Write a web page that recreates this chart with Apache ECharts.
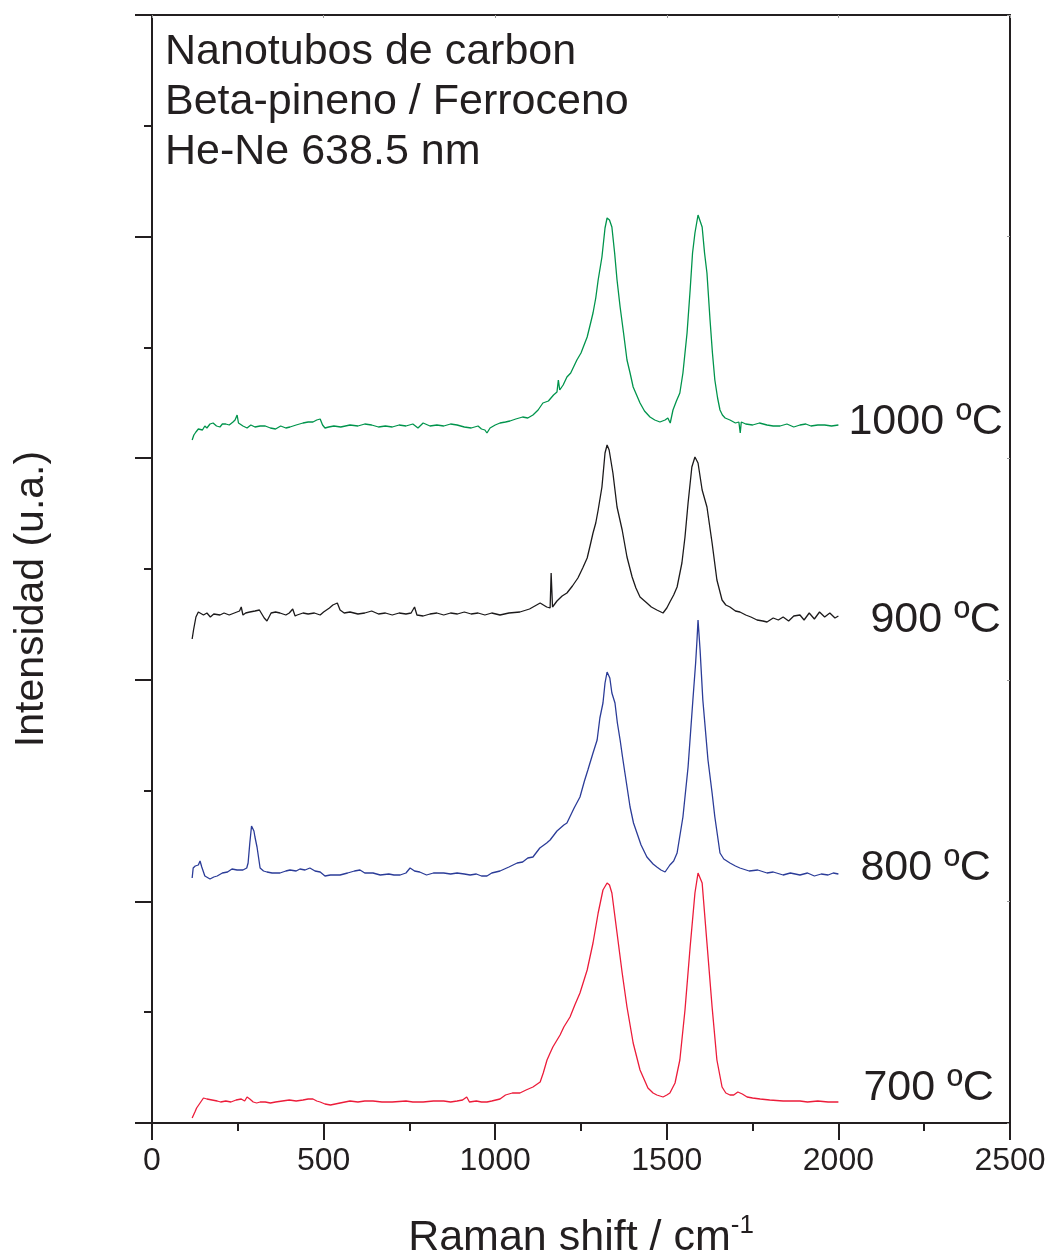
<!DOCTYPE html>
<html>
<head>
<meta charset="utf-8">
<script src="https://cdn.jsdelivr.net/npm/echarts@6/dist/echarts.min.js"></script>
<style>
html,body{margin:0;padding:0;background:#fff;}
#chart{width:1054px;height:1258px;}
</style>
</head>
<body>
<div id="chart"></div>
<script>
// ---- Data (Raman shift in cm^-1, intensity in arbitrary units, spectra vertically offset) ----
const shift1000 = [117,122,128,135,140,147,154,160,169,178,188,198,205,215,225,236,242,248,252,256,265,277,288,300,315,330,345,360,375,390,402,420,440,455,469,480,490,497,504,515,530,550,577,600,620,640,660,680,700,720,740,760,775,790,810,830,850,870,889,910,930,950,960,970,976,985,1000,1014,1030,1043,1060,1080,1095,1110,1125,1139,1155,1170,1180,1184,1188,1198,1209,1220,1238,1250,1268,1278,1285,1293,1300,1311,1320,1326,1333,1340,1348,1355,1364,1374,1384,1393,1402,1412,1422,1435,1451,1465,1480,1495,1503,1510,1518,1528,1538,1547,1553,1559,1568,1575,1582,1591,1597,1603,1610,1617,1626,1633,1640,1648,1655,1662,1670,1684,1700,1710,1714,1717,1730,1750,1770,1792,1810,1830,1850,1870,1888,1905,1920,1940,1960,1980,2000];
const int1000 = [683,688,691,694,695,693,697,695,699,700,697,696,699,699,698,701,703,708,700,698,697,695,698,696,697,697,695,694,697,695,696,698,700,701,701,703,704,698,695,696,697,696,698,697,699,698,696,697,696,698,697,699,695,700,697,698,697,699,698,696,695,697,694,693,690,695,698,700,701,702,704,706,705,708,713,720,722,728,731,743,733,738,746,750,763,770,786,800,810,825,843,866,895,905,903,896,870,843,816,790,763,750,736,728,720,712,706,703,701,703,705,700,713,722,730,750,770,790,833,870,890,908,902,896,870,850,803,770,743,725,713,708,705,703,700,701,690,701,699,698,700,698,697,697,699,696,698,699,697,698,698,697,698];

const shift900 = [117,121,128,135,140,150,160,170,180,198,210,225,240,255,260,265,273,285,300,313,320,327,335,340,347,360,373,390,400,410,417,423,440,455,473,490,500,517,527,540,548,560,577,600,620,640,660,680,700,720,740,755,765,772,790,810,830,850,870,890,910,930,950,970,990,1014,1040,1072,1100,1131,1150,1160,1163,1167,1180,1195,1209,1225,1241,1255,1268,1277,1285,1293,1300,1311,1320,1326,1332,1343,1355,1370,1384,1399,1410,1422,1442,1455,1471,1489,1500,1509,1520,1530,1544,1553,1562,1573,1582,1591,1603,1617,1632,1646,1661,1672,1684,1700,1713,1730,1745,1763,1780,1792,1810,1825,1839,1855,1870,1888,1900,1915,1930,1945,1960,1975,1990,2000];
const int900 = [484,493,506,511,509,508,510,506,509,508,510,508,510,512,516,508,510,511,512,513,509,505,502,501,510,511,510,508,510,514,507,508,510,509,510,508,511,515,518,520,513,510,511,509,510,512,509,510,508,510,509,510,516,508,507,509,510,508,510,509,511,509,510,508,510,508,510,511,514,520,516,515,550,516,522,527,530,537,545,555,565,578,590,600,613,636,670,678,673,650,616,593,566,546,535,526,520,516,513,510,515,521,528,536,560,586,620,656,666,660,633,616,580,543,523,518,516,512,511,508,506,503,502,501,505,503,506,502,507,508,503,510,504,511,506,510,505,507];

const shift800 = [117,120,126,135,140,145,154,169,180,190,205,220,233,248,265,276,280,285,290,297,300,306,315,325,335,350,373,390,402,420,431,446,460,475,490,504,520,548,570,590,606,620,644,665,690,705,723,740,752,765,780,800,820,850,870,889,910,927,945,960,976,990,1014,1040,1064,1080,1095,1110,1130,1150,1160,1180,1200,1209,1230,1247,1260,1270,1285,1297,1305,1314,1320,1326,1330,1334,1340,1349,1356,1364,1371,1378,1393,1403,1413,1425,1442,1460,1471,1483,1495,1509,1520,1530,1547,1562,1576,1584,1588,1591,1597,1605,1620,1632,1640,1655,1666,1684,1700,1713,1740,1765,1792,1810,1839,1860,1888,1910,1930,1950,1970,1985,2000];
const int800 = [245,255,257,258,262,256,247,244,246,247,250,251,254,253,253,255,260,280,297,292,286,276,255,252,251,250,250,252,253,252,254,253,255,252,251,247,248,248,250,252,253,250,250,248,249,248,248,250,255,252,251,248,250,250,249,250,249,248,249,247,247,250,252,256,260,261,265,266,275,280,283,292,298,300,315,326,342,353,370,383,405,420,440,451,449,445,430,420,400,383,366,350,316,300,290,278,266,259,256,253,251,258,262,270,306,356,423,460,483,503,473,423,363,330,306,270,264,260,257,255,252,253,250,251,248,250,248,250,247,249,248,250,249];

const shift700 = [117,125,130,140,150,160,175,190,200,215,230,245,260,270,277,285,295,305,315,330,345,360,380,400,420,440,455,469,480,490,504,520,548,577,600,620,644,670,700,740,760,790,820,850,870,889,905,917,925,945,960,976,990,1014,1030,1050,1072,1090,1110,1131,1140,1151,1160,1168,1189,1200,1218,1232,1247,1268,1285,1300,1314,1326,1333,1340,1355,1370,1384,1402,1422,1445,1460,1471,1489,1500,1509,1524,1538,1553,1568,1582,1591,1596,1603,1617,1632,1646,1661,1672,1684,1695,1707,1720,1734,1750,1772,1800,1839,1860,1888,1910,1940,1970,2000];
const int700 = [5,11,15,20,25,24,23,22,21,22,21,23,24,22,26,24,21,20,21,21,20,21,22,23,22,23,24,24,22,21,19,18,20,22,21,22,22,21,21,22,21,21,22,22,21,22,23,26,21,22,21,21,22,24,28,30,30,33,36,41,50,63,70,76,88,96,106,118,130,153,180,210,233,240,238,230,190,150,116,80,53,35,30,28,26,28,30,40,63,113,176,230,250,248,240,180,116,63,36,30,28,28,31,29,26,25,24,23,22,22,22,21,22,21,21];

const seriesLabels = ['700 ºC', '800 ºC', '900 ºC', '1000 ºC'];
const xTickLabels = ['0', '500', '1000', '1500', '2000', '2500'];
const annotationLines = ['Nanotubos de carbon', 'Beta-pineno / Ferroceno', 'He-Ne 638.5 nm'];

const zip = (xs, ys) => xs.map((x, i) => [x, ys[i]]);
const FONT = "'Liberation Sans', Arial, Helvetica, sans-serif";
const INK = '#231f20';

function spec(name, xs, ys, color, dist, off) {
  return {
    name: name, type: 'line', data: zip(xs, ys), showSymbol: false, symbol: 'none',
    lineStyle: {color: color, width: 1.3}, itemStyle: {color: color},
    endLabel: {show: true, formatter: name, distance: dist, offset: off,
      fontFamily: FONT, fontSize: 43, color: INK},
    xAxisIndex: 0, yAxisIndex: 0, z: 3
  };
}

const chart = echarts.init(document.getElementById('chart'));
chart.setOption({
  animation: false,
  backgroundColor: '#fff',
  grid: {left: 152, right: 44, top: 15, bottom: 135, containLabel: false, outerBoundsMode: 'none'},
  xAxis: [{
    type: 'value', min: 0, max: 2500, interval: 500, position: 'bottom',
    axisLine: {show: true, onZero: false, lineStyle: {color: INK, width: 2}},
    axisTick: {show: true, inside: false, length: 17, lineStyle: {color: INK, width: 2}},
    minorTick: {show: true, splitNumber: 2, length: 8, lineStyle: {color: INK, width: 2}},
    splitLine: {show: false},
    axisLabel: {fontFamily: FONT, fontSize: 32, color: INK, margin: 22,
      formatter: v => xTickLabels[Math.round(v / 500)]},
    name: 'Raman shift / cm{sup|-1}', nameLocation: 'middle', nameGap: 90,
    nameTextStyle: {fontFamily: FONT, fontSize: 43, color: INK,
      rich: {sup: {fontFamily: FONT, fontSize: 26, color: INK, verticalAlign: 'top', padding: [0, 0, 24, 0]}}}
  }, {
    type: 'value', min: 0, max: 2500, interval: 500, position: 'top',
    axisLine: {show: true, onZero: false, lineStyle: {color: INK, width: 2}},
    axisTick: {show: true, inside: true, length: 3, lineStyle: {color: '#999', width: 1}},
    minorTick: {show: false}, splitLine: {show: false}, axisLabel: {show: false}
  }],
  yAxis: [{
    type: 'value', min: 0, max: 1108, interval: 221.6, position: 'left',
    axisLine: {show: true, onZero: false, lineStyle: {color: INK, width: 2}},
    axisTick: {show: true, inside: false, length: 17, lineStyle: {color: INK, width: 2}},
    minorTick: {show: true, splitNumber: 2, length: 8, lineStyle: {color: INK, width: 2}},
    splitLine: {show: false}, axisLabel: {show: false},
    name: 'Intensidad (u.a.)', nameLocation: 'middle', nameGap: 100, nameRotate: 90,
    nameTextStyle: {fontFamily: FONT, fontSize: 41, color: INK, padding: [0, 60, 0, 0]}
  }, {
    type: 'value', min: 0, max: 1108, interval: 221.6, position: 'right',
    axisLine: {show: true, onZero: false, lineStyle: {color: INK, width: 2}},
    axisTick: {show: true, inside: true, length: 3, lineStyle: {color: '#999', width: 1}},
    splitLine: {show: false}, axisLabel: {show: false}
  }],
  graphic: [{
    type: 'text', left: 165, top: 27, z: 10,
    style: {text: annotationLines.join('\n'), fontFamily: FONT, fontSize: 43,
      lineHeight: 50, fill: INK}
  }],
  series: [
    spec(seriesLabels[3], shift1000, int1000, '#00944c', 10, [0, -3]),
    spec(seriesLabels[2], shift900, int900, '#1c1a1b', 32, [0, 4]),
    spec(seriesLabels[1], shift800, int800, '#2b3c98', 22, [0, -6]),
    spec(seriesLabels[0], shift700, int700, '#ec1c3a', 25, [0, -14])
  ]
});
</script>
</body>
</html>
